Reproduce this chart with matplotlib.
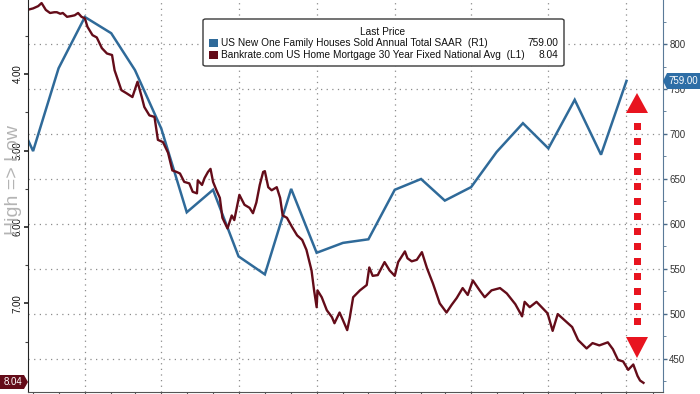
import numpy as np
import pandas as pd
import matplotlib
matplotlib.use("Agg")
import matplotlib.pyplot as plt
import matplotlib.dates as mdates
from matplotlib.patches import Polygon, FancyBboxPatch, Rectangle

plt.rcParams['font.family'] = ['Liberation Sans', 'DejaVu Sans']

# ===== data =====
# new home sales, monthly (thousands, SAAR)
sales_months = pd.date_range("2021-09-30", "2023-09-30", freq="ME")
sales = [745, 681, 773, 830, 812, 771, 706, 613, 638, 564, 544, 639, 568,
         579, 583, 638, 650, 626, 641, 680, 712, 684, 738, 677, 759]

# bankrate 30y fixed (%)
rate_dates = pd.to_datetime([
    "2021-10-24", "2021-10-31", "2021-11-06", "2021-11-10", "2021-11-15", "2021-11-20",
    "2021-11-25", "2021-11-28", "2021-12-02", "2021-12-05", "2021-12-10", "2021-12-15",
    "2021-12-19", "2021-12-23", "2021-12-27", "2021-12-31", "2022-01-03", "2022-01-09",
    "2022-01-14", "2022-01-20", "2022-01-26", "2022-02-01", "2022-02-04", "2022-02-08",
    "2022-02-12", "2022-02-18", "2022-02-25", "2022-03-03", "2022-03-08", "2022-03-11",
    "2022-03-17", "2022-03-23", "2022-03-27", "2022-04-02", "2022-04-08", "2022-04-13",
    "2022-04-18", "2022-04-22", "2022-04-27", "2022-05-03", "2022-05-07", "2022-05-12",
    "2022-05-13", "2022-05-18", "2022-05-21", "2022-05-25", "2022-05-28", "2022-05-31",
    "2022-06-04", "2022-06-08", "2022-06-11", "2022-06-17", "2022-06-22", "2022-06-25",
    "2022-07-01", "2022-07-07", "2022-07-13", "2022-07-17", "2022-07-21", "2022-07-25",
    "2022-07-29", "2022-07-31", "2022-08-04", "2022-08-08", "2022-08-14", "2022-08-18",
    "2022-08-21", "2022-08-26", "2022-09-01", "2022-09-07", "2022-09-13", "2022-09-18",
    "2022-09-24", "2022-09-27", "2022-09-30", "2022-10-01", "2022-10-06", "2022-10-12",
    "2022-10-18", "2022-10-21", "2022-10-27", "2022-10-31", "2022-11-05", "2022-11-08",
    "2022-11-12", "2022-11-20", "2022-11-28", "2022-12-01", "2022-12-05", "2022-12-11",
    "2022-12-19", "2022-12-25", "2022-12-31", "2023-01-04", "2023-01-12", "2023-01-15",
    "2023-01-20", "2023-01-26", "2023-02-01", "2023-02-07", "2023-02-14", "2023-02-22",
    "2023-03-02", "2023-03-08", "2023-03-14", "2023-03-21", "2023-03-27", "2023-04-02",
    "2023-04-10", "2023-04-16", "2023-04-24", "2023-05-04", "2023-05-12", "2023-05-22",
    "2023-05-30", "2023-06-02", "2023-06-08", "2023-06-16", "2023-06-22", "2023-06-29",
    "2023-07-05", "2023-07-11", "2023-07-19", "2023-07-28", "2023-08-04", "2023-08-14",
    "2023-08-21", "2023-08-29", "2023-09-08", "2023-09-14", "2023-09-20", "2023-09-26",
    "2023-10-02", "2023-10-08", "2023-10-13", "2023-10-16", "2023-10-20",
])
rates = [
    3.16, 3.14, 3.11, 3.07, 3.16, 3.20, 3.19, 3.19, 3.21, 3.20, 3.25, 3.24,
    3.23, 3.20, 3.25, 3.27, 3.38, 3.49, 3.52, 3.66, 3.73, 3.75, 3.95, 4.08,
    4.21, 4.25, 4.30, 4.10, 4.30, 4.43, 4.54, 4.56, 4.86, 4.89, 5.03, 5.26,
    5.28, 5.30, 5.41, 5.43, 5.54, 5.56, 5.39, 5.45, 5.36, 5.28, 5.24, 5.41,
    5.52, 5.62, 5.88, 6.02, 5.85, 5.91, 5.58, 5.71, 5.75, 5.82, 5.68, 5.45,
    5.28, 5.27, 5.48, 5.52, 5.48, 5.62, 5.85, 5.88, 6.00, 6.11, 6.17, 6.30,
    6.57, 6.83, 7.05, 6.83, 6.92, 7.09, 7.18, 7.26, 7.12, 7.22, 7.35, 7.19,
    6.92, 6.83, 6.76, 6.53, 6.64, 6.63, 6.46, 6.57, 6.64, 6.46, 6.32, 6.41,
    6.45, 6.43, 6.33, 6.54, 6.74, 7.00, 7.12, 7.02, 6.93, 6.80, 6.89, 6.70,
    6.83, 6.92, 6.83, 6.80, 6.87, 7.01, 7.17, 6.98, 7.05, 6.98, 7.05, 7.13,
    7.36, 7.14, 7.22, 7.31, 7.48, 7.59, 7.52, 7.55, 7.51, 7.60, 7.74, 7.76,
    7.87, 7.80, 7.95, 8.01, 8.04,
]

last_sales = "759.00"
last_rate = "8.04"
sales_name = "US New One Family Houses Sold Annual Total SAAR  (R1)"
rate_name = "Bankrate.com US Home Mortgage 30 Year Fixed National Avg  (L1)"

# ===== style =====
BLUE = "#2f6a99"
RED = "#640c19"
ARROW = "#e8141f"
GRID = "#8c8c8c"

W, H = 700, 394
fig = plt.figure(figsize=(W / 100, H / 100), dpi=100)


def fx(x):
    return x / W


def fy(y):
    return 1 - y / H


ax = fig.add_axes([28 / W, 2 / H, 635 / W, 392 / H])
ax2 = ax.twinx()

# blue line on the right axis
ax2.plot(sales_months, sales, color=BLUE, lw=1.8, solid_joinstyle="miter")
ax2.set_ylim(413.3, 848.9)
ax2.set_yticks(np.arange(450, 801, 50))
ax2.set_yticks(np.arange(425, 826, 25), minor=True)
ax2.grid(axis="y", which="major", color=GRID, lw=0.9, ls=(0, (1, 3.5)))
quarters = pd.date_range("2021-12-31", "2023-09-30", freq="QE")
for q in quarters:
    ax2.axvline(q, color=GRID, lw=0.9, ls=(0, (1, 3.5)), zorder=0.5)

# red line on the left axis (inverted)
ax.plot(rate_dates, rates, color=RED, lw=1.7)
ax.set_ylim(8.16, 3.03)
ax.set_yticks([4, 5, 6, 7])
ax.set_yticks([3.5, 4.5, 5.5, 6.5, 7.5], minor=True)
ax.set_yticklabels(["4.00", "5.00", "6.00", "7.00"])
ax.set_zorder(ax2.get_zorder() + 1)
ax.patch.set_visible(False)

ax.set_xlim(pd.Timestamp("2021-10-25"), pd.Timestamp("2023-11-12"))
months = pd.date_range("2021-10-31", "2023-10-31", freq="ME")
ax.set_xticks(mdates.date2num(months))
ax.set_xticklabels([])

ax.tick_params(axis="y", which="major", labelsize=7, length=3, width=1.2,
               color="#222222", labelcolor="#111111", labelrotation=90, pad=1)
ax.tick_params(axis="y", which="minor", length=2, width=0.8, color="#444444")
ax.tick_params(axis="x", length=3, color="#555555", direction="out")
for lbl in ax.get_yticklabels():
    lbl.set_va("center")

ax2.tick_params(axis="y", which="major", labelsize=7, length=3, width=1,
                color="#4a6a88", labelcolor="#333333", pad=1.5)
ax2.tick_params(axis="y", which="minor", length=2, width=0.7, color="#6a86a0")

for s in ["top"]:
    ax.spines[s].set_visible(False)
    ax2.spines[s].set_visible(False)
ax.spines["left"].set_color("#222222")
ax.spines["bottom"].set_color("#555555")
ax.spines["right"].set_visible(False)
ax2.spines["left"].set_visible(False)
ax2.spines["bottom"].set_visible(False)
ax2.spines["right"].set_color("#5a7a98")

# ===== legend =====
box = FancyBboxPatch((fx(203), fy(66)), fx(361), 47 / H,
                     boxstyle="round,pad=0,rounding_size=0.004",
                     transform=fig.transFigure, fc="white", ec="#3a3a3a",
                     lw=1.0, zorder=10)
fig.patches.append(box)
fig.text(fx(383), fy(32), "Last Price", ha="center", va="center",
         fontsize=7.3, color="#111111", zorder=11)
for yy, col, name, val in [(43, BLUE, sales_name, last_sales),
                           (55, RED, rate_name, last_rate)]:
    fig.patches.append(Rectangle((fx(209), fy(yy + 4)), fx(9), 8 / H,
                                 transform=fig.transFigure, fc=col, ec="none",
                                 zorder=11))
    fig.text(fx(221), fy(yy), name, ha="left", va="center", fontsize=7.3,
             color="#111111", zorder=11)
    fig.text(fx(558), fy(yy), val, ha="right", va="center", fontsize=7.3,
             color="#111111", zorder=11)

# ===== last value tags =====
tag_r = Polygon([(fx(0), fy(375)), (fx(24), fy(375)), (fx(28), fy(382)),
                 (fx(24), fy(389)), (fx(0), fy(389))], closed=True,
                transform=fig.transFigure, fc=RED, ec="none", zorder=10)
fig.patches.append(tag_r)
fig.text(fx(12.5), fy(382), last_rate, ha="center", va="center", fontsize=7,
         color="white", zorder=11)
tag_b = Polygon([(fx(663), fy(81)), (fx(667), fy(73)), (fx(700), fy(73)),
                 (fx(700), fy(89)), (fx(667), fy(89))], closed=True,
                transform=fig.transFigure, fc="#2e6ea6", ec="none", zorder=10)
fig.patches.append(tag_b)
fig.text(fx(683), fy(81), last_sales, ha="center", va="center", fontsize=7,
         color="white", zorder=11)

# ===== "High => Low" =====
fig.text(fx(14), fy(180), "High => Low", rotation=90, ha="center",
         va="center", fontsize=14, color="#b4b4b4", zorder=11)

# ===== red double arrow =====
xa = 637
fig.patches.append(Polygon([(fx(xa), fy(93)), (fx(xa - 11), fy(113)),
                            (fx(xa + 11), fy(113))], closed=True,
                           transform=fig.transFigure, fc=ARROW, ec="none",
                           zorder=12))
fig.patches.append(Polygon([(fx(xa), fy(358)), (fx(xa - 11), fy(337)),
                            (fx(xa + 11), fy(337))], closed=True,
                           transform=fig.transFigure, fc=ARROW, ec="none",
                           zorder=12))
for yy in range(123, 333, 15):
    fig.patches.append(Rectangle((fx(xa - 3.5), fy(yy + 6.5)), fx(7), 6.5 / H,
                                 transform=fig.transFigure, fc=ARROW,
                                 ec="none", zorder=12))

fig.savefig("out.png", dpi=100)
